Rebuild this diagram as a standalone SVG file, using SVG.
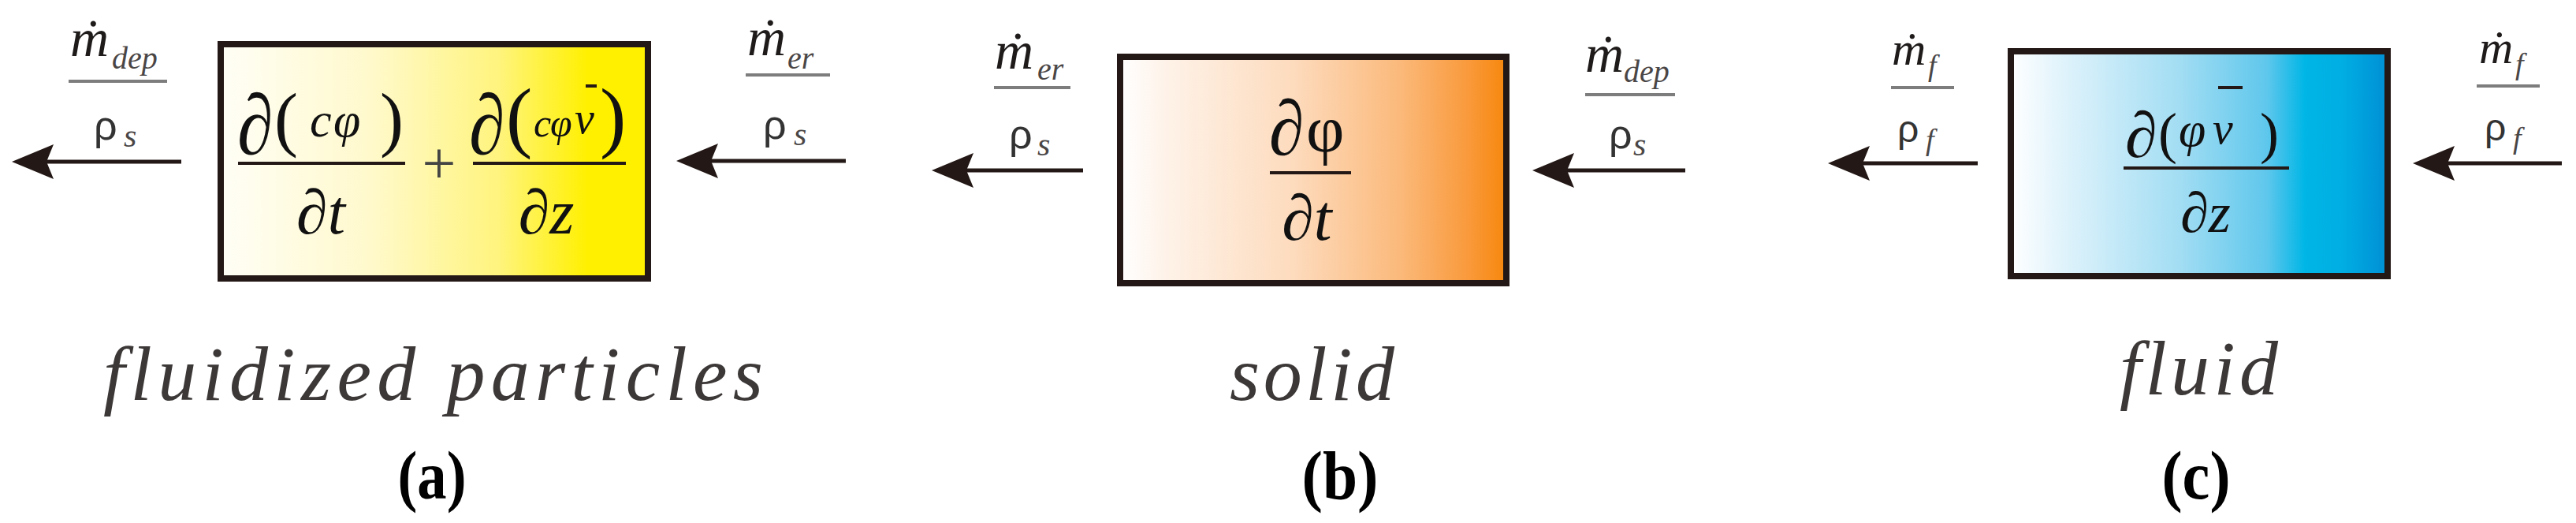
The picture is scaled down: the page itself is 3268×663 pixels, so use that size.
<svg xmlns="http://www.w3.org/2000/svg" width="3268" height="663" viewBox="0 0 3268 663">
<style>
.num{fill:#1f1b1b}
.sub{fill:#4a4646}
.rho{fill:#333}
.fl{stroke:#7d7d7d;stroke-width:4}
.fr{stroke:#231815;stroke-width:4}
.box{stroke:#231815;stroke-width:8}
.arr{stroke:#231815;stroke-width:5;fill:none;marker-end:url(#ah)}
.cap{fill:#3d3838}
.tag{fill:#000}
.eq{fill:#111}
</style>
<defs>
<marker id="ah" markerUnits="userSpaceOnUse" markerWidth="53" markerHeight="44" viewBox="0 0 53 44" refX="13" refY="22" orient="auto">
<path d="M0,0 L53,22 L0,44 L9,22 Z" fill="#231815"/>
</marker>
<linearGradient id="gy" x1="0" y1="0" x2="1" y2="0">
<stop offset="0" stop-color="#FFFEF6"/>
<stop offset="0.35" stop-color="#FFF9CC"/>
<stop offset="0.65" stop-color="#FFF47E"/>
<stop offset="0.86" stop-color="#FFF000"/>
<stop offset="1" stop-color="#FFF000"/>
</linearGradient>
<linearGradient id="go" x1="0" y1="0" x2="1" y2="0">
<stop offset="0" stop-color="#FFFFFF"/>
<stop offset="0.12" stop-color="#FEF2E8"/>
<stop offset="0.45" stop-color="#FDDBBD"/>
<stop offset="0.72" stop-color="#FBBA7C"/>
<stop offset="0.9" stop-color="#F99A3C"/>
<stop offset="1" stop-color="#F7870C"/>
</linearGradient>
<linearGradient id="gb" x1="0" y1="0" x2="1" y2="0">
<stop offset="0" stop-color="#FFFFFF"/>
<stop offset="0.15" stop-color="#DDF2FB"/>
<stop offset="0.45" stop-color="#A2DDF3"/>
<stop offset="0.68" stop-color="#5FC7EC"/>
<stop offset="0.78" stop-color="#00B6E6"/>
<stop offset="0.88" stop-color="#00AEE3"/>
<stop offset="1" stop-color="#008FD4"/>
</linearGradient>
</defs>

<g id="connectors">
<line class="arr" x1="230" y1="205" x2="55" y2="205"/>
<line class="arr" x1="1073" y1="204" x2="898" y2="204"/>
<line class="arr" x1="1374" y1="216" x2="1222" y2="216"/>
<line class="arr" x1="2138" y1="216" x2="1984" y2="216"/>
<line class="arr" x1="2509" y1="207" x2="2359" y2="207"/>
<line class="arr" x1="3250" y1="207" x2="3101" y2="207"/>
</g>

<g id="label-a-left">
<text font-family="'Liberation Serif', serif" font-style="italic"><tspan class="num" x="89" y="71" font-size="68">ṁ</tspan><tspan class="sub" x="142" y="87" font-size="40">dep</tspan></text>
<line class="fl" x1="87" y1="103" x2="212" y2="103"/>
<text font-family="'Liberation Sans', sans-serif"><tspan class="rho" x="119" y="177" font-size="52">ρ</tspan><tspan class="sub" font-family="'Liberation Serif', serif" font-style="italic" x="157" y="186" font-size="42">s</tspan></text>
</g>
<g id="label-a-right">
<text font-family="'Liberation Serif', serif" font-style="italic"><tspan class="num" x="948" y="70" font-size="68">ṁ</tspan><tspan class="sub" x="999" y="87" font-size="40">er</tspan></text>
<line class="fl" x1="946" y1="95" x2="1053" y2="95"/>
<text font-family="'Liberation Sans', sans-serif"><tspan class="rho" x="968" y="176" font-size="52">ρ</tspan><tspan class="sub" font-family="'Liberation Serif', serif" font-style="italic" x="1007" y="184" font-size="42">s</tspan></text>
</g>

<g id="node-a">
<rect class="box" x="280" y="56" width="542" height="297" fill="url(#gy)"/>
<text class="eq" font-family="'Liberation Serif', serif" transform="translate(301,195) scale(1,1.18)" x="0" y="0" font-size="92">∂</text>
<text class="eq" font-family="'Liberation Serif', serif"><tspan x="348" y="181" font-size="90">(</tspan><tspan font-style="italic" x="393" y="173" font-size="62">c</tspan><tspan font-style="italic" x="423" y="173" font-size="62">φ</tspan><tspan x="482" y="181" font-size="90">)</tspan></text>
<line class="fr" x1="302" y1="207" x2="514" y2="207"/>
<text class="eq" font-family="'Liberation Serif', serif" x="407" y="296" font-size="80" text-anchor="middle">∂<tspan font-style="italic">t</tspan></text>
<text font-family="'Liberation Serif', serif" x="557" y="232" font-size="76" text-anchor="middle" fill="#444">+</text>
<text class="eq" font-family="'Liberation Serif', serif" transform="translate(595,195) scale(1,1.18)" x="0" y="0" font-size="92">∂</text>
<text class="eq" font-family="'Liberation Serif', serif"><tspan x="642" y="181" font-size="100">(</tspan><tspan font-style="italic" x="677" y="173" font-size="50">c</tspan><tspan font-style="italic" x="698" y="173" font-size="50">φ</tspan><tspan font-style="italic" x="729" y="169" font-size="56">v</tspan><tspan x="761" y="181" font-size="100">)</tspan></text>
<line class="fr" x1="743" y1="109" x2="757" y2="109"/>
<line class="fr" x1="600" y1="207" x2="794" y2="207"/>
<text class="eq" font-family="'Liberation Serif', serif" x="693" y="296" font-size="80" text-anchor="middle">∂<tspan font-style="italic">z</tspan></text>
<text class="cap" font-family="'Liberation Serif', serif" x="131" y="507" font-size="98" font-style="italic" textLength="837" lengthAdjust="spacing">fluidized particles</text>
<text class="tag" font-family="'Liberation Serif', serif" x="548" y="632" font-size="86" font-weight="bold" text-anchor="middle" textLength="87" lengthAdjust="spacingAndGlyphs">(a)</text>
</g>

<g id="label-b-left">
<text font-family="'Liberation Serif', serif" font-style="italic"><tspan class="num" x="1262" y="87" font-size="68">ṁ</tspan><tspan class="sub" x="1316" y="101" font-size="40">er</tspan></text>
<line class="fl" x1="1261" y1="111" x2="1358" y2="111"/>
<text font-family="'Liberation Sans', sans-serif"><tspan class="rho" x="1280" y="188" font-size="52">ρ</tspan><tspan class="sub" font-family="'Liberation Serif', serif" font-style="italic" x="1316" y="197" font-size="42">s</tspan></text>
</g>
<g id="label-b-right">
<text font-family="'Liberation Serif', serif" font-style="italic"><tspan class="num" x="2011" y="91" font-size="68">ṁ</tspan><tspan class="sub" x="2060" y="104" font-size="40">dep</tspan></text>
<line class="fl" x1="2011" y1="120" x2="2125" y2="120"/>
<text font-family="'Liberation Sans', sans-serif"><tspan class="rho" x="2041" y="188" font-size="52">ρ</tspan><tspan class="sub" font-family="'Liberation Serif', serif" font-style="italic" x="2072" y="197" font-size="42">s</tspan></text>
</g>

<g id="node-b">
<rect class="box" x="1421" y="72" width="490" height="287" fill="url(#go)"/>
<text class="eq" font-family="'Liberation Serif', serif" transform="translate(1610,196) scale(1,1.1)" x="0" y="0" font-size="90">∂</text>
<text class="eq" font-family="'Liberation Serif', serif" x="1657" y="192" font-size="84">φ</text>
<line class="fr" x1="1611" y1="219" x2="1714" y2="219"/>
<text class="eq" font-family="'Liberation Serif', serif" x="1658" y="304" font-size="82" text-anchor="middle">∂<tspan font-style="italic">t</tspan></text>
<text class="cap" font-family="'Liberation Serif', serif" x="1560" y="507" font-size="98" font-style="italic" textLength="209" lengthAdjust="spacing">solid</text>
<text class="tag" font-family="'Liberation Serif', serif" x="1700" y="632" font-size="86" font-weight="bold" text-anchor="middle" textLength="97" lengthAdjust="spacingAndGlyphs">(b)</text>
</g>

<g id="label-c-left">
<text font-family="'Liberation Serif', serif" font-style="italic"><tspan class="num" x="2400" y="82" font-size="60">ṁ</tspan><tspan class="sub" x="2446" y="96" font-size="38">f</tspan></text>
<line class="fl" x1="2399" y1="111" x2="2479" y2="111"/>
<text font-family="'Liberation Sans', sans-serif"><tspan class="rho" x="2407" y="180" font-size="48">ρ</tspan><tspan class="sub" font-family="'Liberation Serif', serif" font-style="italic" x="2443" y="190" font-size="38">f</tspan></text>
</g>
<g id="label-c-right">
<text font-family="'Liberation Serif', serif" font-style="italic"><tspan class="num" x="3145" y="80" font-size="60">ṁ</tspan><tspan class="sub" x="3191" y="94" font-size="38">f</tspan></text>
<line class="fl" x1="3142" y1="109" x2="3222" y2="109"/>
<text font-family="'Liberation Sans', sans-serif"><tspan class="rho" x="3152" y="178" font-size="48">ρ</tspan><tspan class="sub" font-family="'Liberation Serif', serif" font-style="italic" x="3188" y="188" font-size="38">f</tspan></text>
</g>

<g id="node-c">
<rect class="box" x="2551" y="65" width="478" height="285" fill="url(#gb)"/>
<text class="eq" font-family="'Liberation Serif', serif"><tspan x="2696" y="199" font-size="82">∂</tspan><tspan x="2738" y="193" font-size="72">(</tspan><tspan font-style="italic" x="2764" y="185" font-size="62">φ</tspan><tspan font-style="italic" x="2807" y="182" font-size="58">v</tspan><tspan x="2867" y="193" font-size="72">)</tspan></text>
<line class="fr" x1="2814" y1="111" x2="2845" y2="111"/>
<line class="fr" x1="2694" y1="213" x2="2904" y2="213"/>
<text class="eq" font-family="'Liberation Serif', serif" x="2798" y="294" font-size="72" text-anchor="middle">∂<tspan font-style="italic">z</tspan></text>
<text class="cap" font-family="'Liberation Serif', serif" x="2689" y="500" font-size="98" font-style="italic" textLength="201" lengthAdjust="spacing">fluid</text>
<text class="tag" font-family="'Liberation Serif', serif" x="2786" y="632" font-size="86" font-weight="bold" text-anchor="middle" textLength="87" lengthAdjust="spacingAndGlyphs">(c)</text>
</g>
</svg>
